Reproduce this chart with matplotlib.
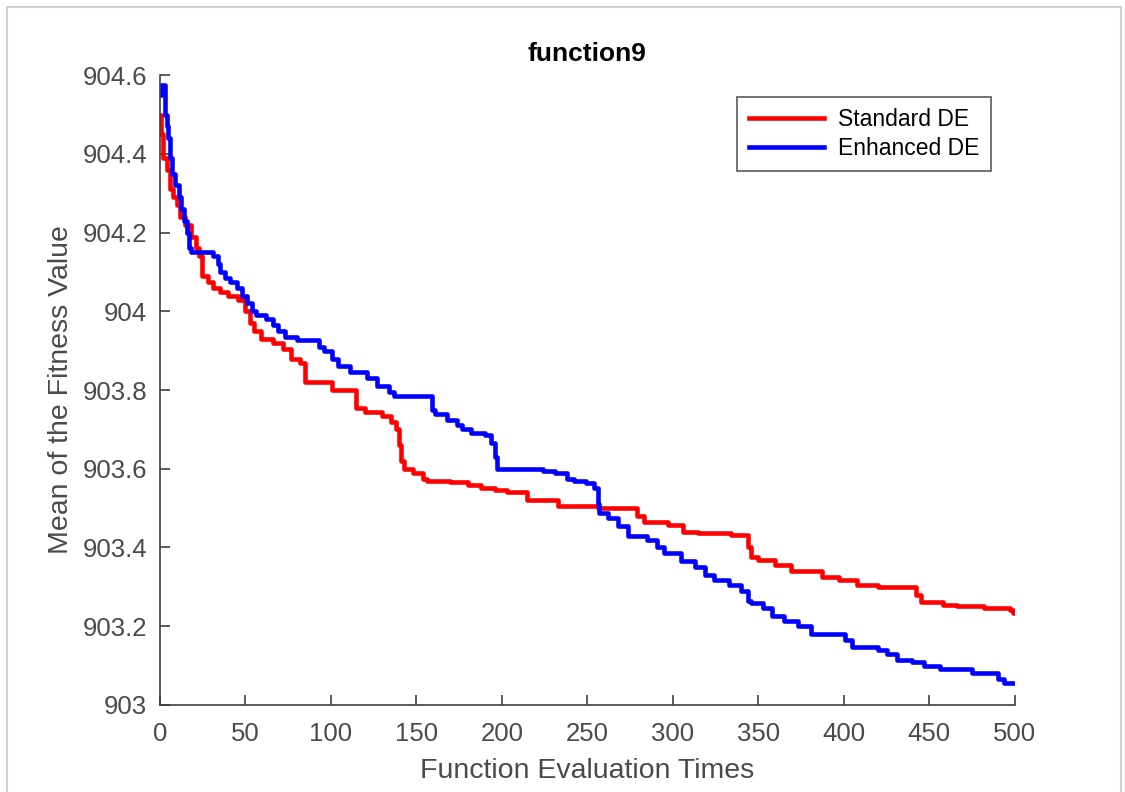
import matplotlib
matplotlib.use('Agg')
import matplotlib.pyplot as plt
from matplotlib.ticker import FuncFormatter
from matplotlib.patches import Rectangle

plt.rcParams['font.family'] = ['Liberation Sans', 'DejaVu Sans']

# step breakpoints (value holds until next x)
std_x = [0, 1, 2, 4, 6, 8, 10, 12, 15, 18, 21, 23, 25, 28, 31, 35, 40, 46, 50, 53,
         55, 59, 66, 72, 77, 82, 85, 101, 115, 120, 130, 135, 138, 140, 141, 143, 148,
         154, 156, 170, 180, 188, 196, 203, 215, 233, 256, 279, 283, 297, 306, 315,
         334, 344, 346, 350, 360, 369, 387, 397, 408, 420, 442, 445, 458, 466, 482,
         497, 499, 500]
std_y = [904.50, 904.45, 904.39, 904.36, 904.31, 904.29, 904.27, 904.24, 904.22, 904.19,
         904.16, 904.14, 904.09, 904.075, 904.06, 904.05, 904.04, 904.03, 904.00, 903.97,
         903.95, 903.93, 903.92, 903.905, 903.88, 903.87, 903.82, 903.80, 903.755, 903.745,
         903.735, 903.72, 903.70, 903.66, 903.62, 903.60, 903.59, 903.575, 903.57, 903.567,
         903.56, 903.55, 903.545, 903.54, 903.52, 903.505, 903.50, 903.48, 903.465, 903.457,
         903.44, 903.436, 903.432, 903.40, 903.375, 903.368, 903.356, 903.34, 903.326,
         903.318, 903.305, 903.30, 903.28, 903.262, 903.254, 903.25, 903.246, 903.24,
         903.233, 903.233]

enh_x = [0, 1, 3, 4, 5, 6, 7, 9, 11, 12.5, 14, 16, 17, 18, 31, 34, 35, 38, 41, 45, 48,
         51, 54, 56, 62, 66, 69, 73, 80, 93, 96, 101, 104, 111, 121, 127, 134, 137, 159,
         161, 168, 174, 177, 182, 190, 194, 196, 197, 224, 231, 238, 242, 249, 254, 256,
         257, 262, 268, 274, 285, 291, 295, 305, 313, 319, 324, 333, 340, 344, 346, 353,
         358, 365, 373, 381, 401, 405, 420, 425, 431, 440, 447, 456, 475, 490, 494, 500]
enh_y = [904.55, 904.575, 904.50, 904.47, 904.44, 904.39, 904.35, 904.32, 904.29, 904.26,
         904.23, 904.20, 904.16, 904.15, 904.14, 904.12, 904.10, 904.085, 904.075, 904.06,
         904.04, 904.02, 904.00, 903.99, 903.98, 903.965, 903.95, 903.935, 903.927, 903.91,
         903.90, 903.88, 903.86, 903.845, 903.83, 903.81, 903.795, 903.785, 903.75, 903.74,
         903.725, 903.71, 903.70, 903.69, 903.685, 903.665, 903.63, 903.60, 903.595,
         903.588, 903.575, 903.57, 903.563, 903.55, 903.51, 903.487, 903.475, 903.455,
         903.43, 903.42, 903.40, 903.385, 903.366, 903.35, 903.33, 903.318, 903.305,
         903.29, 903.265, 903.258, 903.245, 903.225, 903.212, 903.20, 903.18, 903.165,
         903.148, 903.14, 903.13, 903.115, 903.11, 903.098, 903.09, 903.08, 903.065,
         903.055, 903.055]

xticks = list(range(0, 501, 50))
yticks = [903, 903.2, 903.4, 903.6, 903.8, 904, 904.2, 904.4, 904.6]

fig = plt.figure(figsize=(11.25, 7.92), dpi=100)
ax = fig.add_axes([0.142, 0.110, 0.760, 0.795])

ax.plot(std_x, std_y, color='#ff0000', lw=3.3, drawstyle='steps-post', label='Standard DE')
ax.plot(enh_x, enh_y, color='#0000ff', lw=3.3, drawstyle='steps-post', label='Enhanced DE')

ax.set_xlim(0, 500)
ax.set_ylim(903, 904.6)
ax.set_xticks(xticks)
ax.set_yticks(yticks)
ax.yaxis.set_major_formatter(FuncFormatter(lambda v, p: '%g' % round(v, 1)))

for s in ['top', 'right']:
    ax.spines[s].set_visible(False)
for s in ['left', 'bottom']:
    ax.spines[s].set_color('#404040')
    ax.spines[s].set_linewidth(1.2)
ax.tick_params(direction='in', length=7, width=1.2, color='#404040',
               labelcolor='#4a4a4a', labelsize=18.5)
ax.tick_params(axis='y', pad=9)
ax.tick_params(axis='x', pad=12)

ax.set_title('function9', fontsize=19, fontweight='bold', pad=10)
ax.set_xlabel('Function Evaluation Times', fontsize=20.5, color='#4a4a4a', labelpad=9)
ax.set_ylabel('Mean of the Fitness Value', fontsize=20.5, color='#4a4a4a', labelpad=6)

leg = ax.legend(loc='upper right', bbox_to_anchor=(0.972, 0.966), borderaxespad=0,
                fontsize=16.5, frameon=True, fancybox=False, handlelength=3.3,
                borderpad=0.5, labelspacing=0.25, handletextpad=0.6)
leg.get_frame().set_edgecolor('#303030')
leg.get_frame().set_linewidth(1.2)

# faint screenshot frame
fig.patches.append(Rectangle((0.006, -0.01), 0.99, 1.0 - 0.0088 + 0.01, transform=fig.transFigure,
                             fill=False, edgecolor='#d0d0d0', lw=1.5))

fig.savefig('out.png', dpi=100)
